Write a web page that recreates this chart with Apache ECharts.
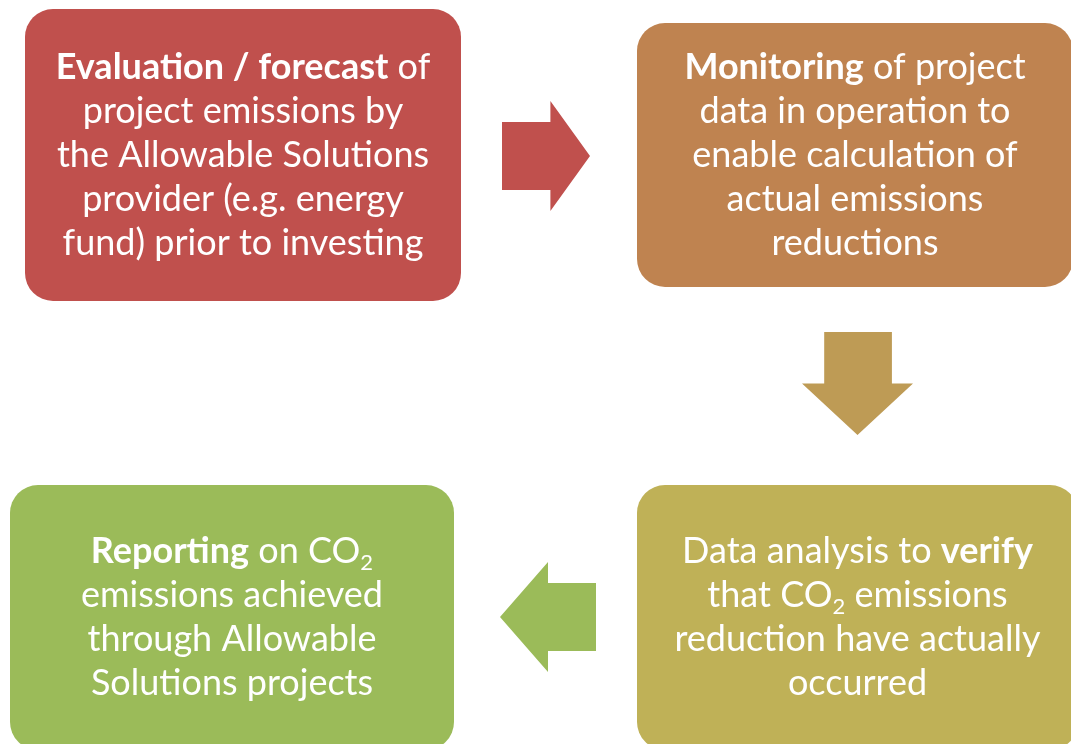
<!DOCTYPE html>
<html>
<head>
<meta charset="utf-8">
<script src="https://cdn.jsdelivr.net/npm/echarts@6/dist/echarts.min.js"></script>
<style>html,body{margin:0;padding:0;background:#fff}#c{width:1071px;height:744px}</style>
</head>
<body>
<div id="c"></div>
<script>
// ---- content ----
const stepNames = ["Evaluation", "Monitoring", "Verification", "Reporting"];
const stepLabels = [
  "{b|Evaluation / forecast} of\nproject emissions by\nthe Allowable Solutions\nprovider (e.g. energy\nfund) prior to investing",
  "{b|Monitoring} of project\ndata in operation to\nenable calculation of\nactual emissions\nreductions",
  "Data analysis to {b|verify}\nthat CO{s|2} emissions\nreduction have actually\noccurred",
  "{b|Reporting} on CO{s|2}\nemissions achieved\nthrough Allowable\nSolutions projects"
];
const flowFrom = [0, 1, 2];
const flowTo = [1, 2, 3];
const flowDirections = ["right", "down", "left"];

// ---- styles / layout (not data) ----
const boxColors = ["#C0504D", "#BF8350", "#BFB157", "#9BBB59"];
const arrowColors = ["#C0504D", "#BE9B55", "#9BBB59"];
const boxRects = [[25, 9, 461, 301], [637, 23, 1073, 287], [637, 485, 1078, 750], [10, 485, 454, 750]];
const arrowRects = [[502, 101, 590, 211], [802, 332, 913, 435], [500, 562, 596, 672]];
const FONT = 'Lato, "Open Sans", sans-serif';
const FS = 36;

const chart = echarts.init(document.getElementById('c'), null, {renderer: 'canvas'});

function boxItem(params, api) {
  const i = api.value(0);
  const r = boxRects[i];
  const p0 = api.coord([r[0], r[1]]);
  const p1 = api.coord([r[2], r[3]]);
  const cx = (p0[0] + p1[0]) / 2, cy = (p0[1] + p1[1]) / 2;
  return {
    type: 'group',
    children: [
      {type: 'rect', shape: {x: p0[0], y: p0[1], width: p1[0] - p0[0], height: p1[1] - p0[1], r: 28},
       style: {fill: boxColors[i]}},
      {type: 'text', x: cx, y: cy,
       style: {
         text: stepLabels[i], fill: '#fff', fontFamily: FONT, fontSize: FS, lineHeight: 44,
         align: 'center', verticalAlign: 'middle',
         rich: {
           b: {fontFamily: FONT, fontSize: FS, fontWeight: 'bold', fill: '#fff', lineHeight: 44},
           s: {fontFamily: FONT, fontSize: 22, fill: '#fff', lineHeight: 20, verticalAlign: 'bottom'}
         }
       }}
    ]
  };
}

function arrowItem(params, api) {
  const i = api.value(0);
  const r = arrowRects[i];
  const a = api.coord([r[0], r[1]]);
  const b = api.coord([r[2], r[3]]);
  const x0 = a[0], y0 = a[1], x1 = b[0], y1 = b[1];
  const w = x1 - x0, h = y1 - y0;
  let pts;
  const dir = flowDirections[i];
  if (dir === 'right') {
    const hb = x0 + w * 0.55, s0 = y0 + h * 0.19, s1 = y0 + h * 0.81;
    pts = [[x0, s0], [hb, s0], [hb, y0], [x1, (y0 + y1) / 2], [hb, y1], [hb, s1], [x0, s1]];
  } else if (dir === 'left') {
    const hb = x0 + w * 0.5, s0 = y0 + h * 0.19, s1 = y0 + h * 0.81;
    pts = [[x1, s0], [hb, s0], [hb, y0], [x0, (y0 + y1) / 2], [hb, y1], [hb, s1], [x1, s1]];
  } else {
    const hb = y0 + h * 0.5, s0 = x0 + w * 0.2, s1 = x0 + w * 0.81;
    pts = [[s0, y0], [s1, y0], [s1, hb], [x1, hb], [(x0 + x1) / 2, y1], [x0, hb], [s0, hb]];
  }
  return {type: 'polygon', shape: {points: pts}, style: {fill: arrowColors[i]}};
}

chart.setOption({
  animation: false,
  backgroundColor: '#fff',
  grid: {left: 0, right: 0, top: 0, bottom: 0},
  xAxis: {type: 'value', min: 0, max: 1071, show: false},
  yAxis: {type: 'value', min: 0, max: 744, inverse: true, show: false},
  series: [
    {type: 'custom', name: 'arrows', clip: false, renderItem: arrowItem,
     data: flowDirections.map((d, i) => [i, flowFrom[i], flowTo[i]])},
    {type: 'custom', name: 'steps', clip: false, renderItem: boxItem,
     data: stepNames.map((n, i) => [i])}
  ]
});
</script>
</body>
</html>
